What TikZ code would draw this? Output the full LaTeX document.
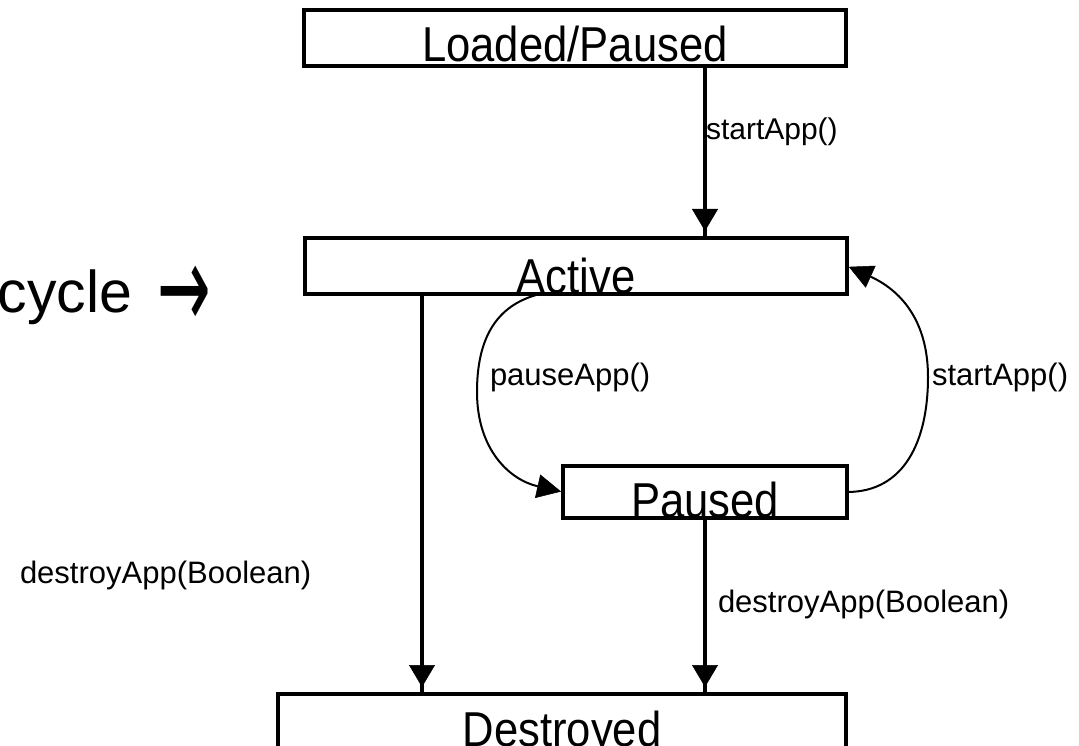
\documentclass[tikz,border=0pt]{standalone}
\usepackage{graphicx}
\usepackage{fontspec}
\setmainfont{Liberation Sans}
\newfontfamily\statefont[FakeStretch=0.89]{Liberation Sans}
\newfontfamily\arrowfont{DejaVu Sans}
\usetikzlibrary{arrows.meta}

\tikzset{
  statebox/.style={draw, line width=4pt, inner sep=0pt, outer sep=0pt,
    font=\statefont\fontsize{49}{49}\selectfont},
  flow/.style={line width=3.5pt,
    -{Triangle[length=22pt,width=26pt,line width=0.5pt]Rectangle[length=7pt,width=3.5pt,line width=0pt]}},
  curve/.style={line width=2pt, shorten >=2pt,
    -{Triangle[length=24pt,width=24pt,line width=0.5pt]}},
  lbl/.style={inner sep=0pt, outer sep=0pt, anchor=base west},
}

\begin{document}
\begin{tikzpicture}[x=1pt,y=-1pt]
  % page frame
  \fill[white] (0,0) rectangle (1079,746);
  \clip (0,0) rectangle (1079,746);

  % states
  \node[statebox, minimum width=542pt, text height=52pt, text depth=4pt] (lp) at (575,38) {Loaded/Paused};
  \node[statebox, minimum width=542pt, text height=55pt, text depth=1pt] (act) at (576,266) {Active};
  \node[statebox, minimum width=284pt, text height=51pt, text depth=1pt] (paused) at (705,492) {Paused};
  \node[statebox, minimum width=568pt, text height=52pt, text depth=28pt] (dest) at (562,734) {Destroyed};

  % x positions of the vertical transitions
  \coordinate (xr) at (705,0);
  \coordinate (xl) at (422,0);
  \coordinate (xp) at (540,0);

  % straight transitions
  \draw[flow] (lp.south -| xr) -- (act.north -| xr);
  \draw[flow] (act.south -| xl) -- (dest.north -| xl);
  \draw[flow] (paused.south -| xr) -- (dest.north -| xr);

  % curved transitions between Active and Paused
  \draw[curve] (act.south -| xp) .. controls (495,305) and (477,340) .. (477,392)
               .. controls (477,450) and (510,480) .. (paused.west);
  \draw[curve] (paused.east) .. controls (905,492) and (928,440) .. (928,377)
               .. controls (928,320) and (900,290) .. (act.east);

  % transition labels
  \node[lbl, font=\fontsize{30}{30}\selectfont] (l1) at (706,140) {startApp()};
  \node[lbl, font=\fontsize{31}{31}\selectfont] (l2) at (490,385) {pauseApp()};
  \node[lbl, font=\fontsize{31}{31}\selectfont] (l3) at (932,385) {startApp()};
  \node[lbl, font=\fontsize{31}{31}\selectfont] (l4) at (20,583) {destroyApp(Boolean)};
  \node[lbl, font=\fontsize{31}{31}\selectfont] (l5) at (718,612) {destroyApp(Boolean)};

  % heading fragment
  \node[lbl, font=\fontsize{59}{59}\selectfont] (title) at (-2,312)
    {cycle\hspace{25pt}\raisebox{-16pt}{\arrowfont\fontsize{64}{64}\selectfont\scalebox{1}[1.85]{→}}};
\end{tikzpicture}
\end{document}
